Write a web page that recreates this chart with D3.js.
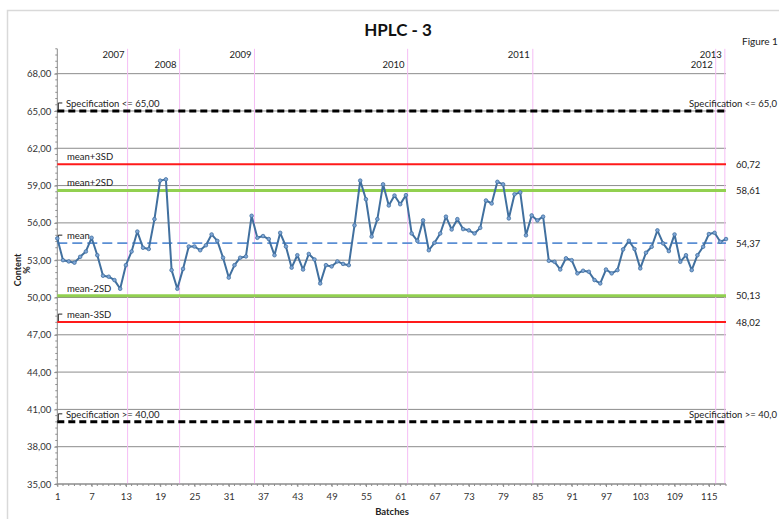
<!DOCTYPE html>
<html>
<head>
<meta charset="utf-8">
<script src="https://cdn.jsdelivr.net/npm/d3@7"></script>
<style>
  body { margin: 0; background: #fff; }
  svg { font-family: Lato, "Open Sans", sans-serif; }
</style>
</head>
<body>
<svg id="chart" width="779" height="519"></svg>
<script>
/** data **/
var contents = [
  54.75, 53.0, 52.9, 52.8, 53.27, 53.7, 54.8, 53.4, 51.75, 51.67,
  51.4, 50.7, 52.6, 53.7, 55.3, 54.0, 53.9, 56.3, 59.4, 59.5,
  52.2, 50.7, 52.3, 54.1, 54.1, 53.8, 54.2, 55.07, 54.55, 53.2,
  51.6, 52.6, 53.2, 53.3, 56.57, 54.8, 54.94, 54.7, 53.4, 55.2,
  54.1, 52.4, 53.4, 52.25, 53.5, 53.06, 51.13, 52.6, 52.5, 52.9,
  52.7, 52.6, 55.8, 59.4, 57.9, 54.9, 56.3, 59.1, 57.4, 58.2,
  57.5, 58.23, 55.15, 54.55, 56.2, 53.8, 54.4, 55.15, 56.5, 55.47,
  56.3, 55.5, 55.4, 55.15, 55.6, 57.8, 57.56, 59.3, 59.1, 56.36,
  58.3, 58.45, 55.0, 56.6, 56.2, 56.5, 52.95, 52.87, 52.25, 53.15,
  53.0, 51.94, 52.15, 52.07, 51.4, 51.13, 52.25, 51.94, 52.2, 53.87,
  54.56, 53.9, 52.34, 53.6, 54.08, 55.4, 54.35, 53.73, 55.07, 52.87,
  53.4, 52.2, 53.4, 54.08, 55.1, 55.2, 54.48, 54.7
];
var nBatches = 118;
var xTickLabels = [1, 7, 13, 19, 25, 31, 37, 43, 49, 55, 61, 67, 73, 79, 85, 91, 97, 103, 109, 115];
var yTicks = [35, 38, 41, 44, 47, 50, 53, 56, 59, 62, 65, 68];

var years = ["2007", "2008", "2009", "2010", "2011", "2012", "2013"];
var yearEnds = [13.3, 22.4, 35.5, 62.3, 84.2, 116.2, 117.8];

var limitNames = ["Specification <= 65,00", "mean+3SD", "mean+2SD", "mean", "mean-2SD", "mean-3SD", "Specification >= 40,00"];
var limitValues = [65.00, 60.72, 58.61, 54.37, 50.13, 48.02, 40.00];
var limitRight = ["Specification <= 65,0", "60,72", "58,61", "54,37", "50,13", "48,02", "Specification >= 40,0"];
var limitKind = ["spec", "sd3", "sd2", "mean", "sd2", "sd3", "spec"];

/** layout **/
var svg = d3.select("#chart");
var x = d3.scaleLinear().domain([1, nBatches]).range([57.3, 726]);
var y = d3.scaleLinear().domain([35, 70]).range([484, 48.8]);
var comma = function(v) { return d3.format(".2f")(v).replace(".", ","); };

// frame
svg.append("rect").attr("x", 7.5).attr("y", 10.5).attr("width", 800).attr("height", 540)
  .attr("fill", "none").attr("stroke", "#d9d9d9").attr("stroke-width", 1.5);

// title
svg.append("text").attr("x", 398).attr("y", 36).attr("text-anchor", "middle")
  .attr("font-size", 17).attr("font-weight", "bold").attr("fill", "#111").text("HPLC - 3");
svg.append("text").attr("x", 742).attr("y", 45).attr("font-size", 10).attr("fill", "#222").text("Figure 1");

// gridlines
svg.append("g").selectAll("line").data(yTicks).enter().append("line")
  .attr("x1", x(1)).attr("x2", x(nBatches))
  .attr("y1", function(d) { return y(d); }).attr("y2", function(d) { return y(d); })
  .attr("stroke", "#8c8c8c").attr("stroke-width", 1);

// year boundaries
svg.append("g").selectAll("line").data(yearEnds).enter().append("line")
  .attr("x1", function(d) { return x(d); }).attr("x2", function(d) { return x(d); })
  .attr("y1", y(70)).attr("y2", y(35))
  .attr("stroke", "#f5bdf5").attr("stroke-width", 1);
svg.append("g").selectAll("text").data(years).enter().append("text")
  .attr("x", function(d, i) { return x(yearEnds[i]) - 3; })
  .attr("y", function(d, i) { return i % 2 == 0 ? 58 : 67.5; })
  .attr("text-anchor", "end").attr("font-size", 9.5).attr("fill", "#222")
  .text(function(d) { return d; });

// y axis
var yAxis = d3.axisLeft(y).tickValues(yTicks).tickSize(3).tickFormat(comma);
var gy = svg.append("g").attr("transform", "translate(" + x(1) + ",0)").call(yAxis);
gy.select(".domain").attr("stroke", "#8c8c8c").attr("d", "M0," + y(70) + "V" + y(35));
gy.selectAll(".tick line").attr("stroke", "#8c8c8c");
gy.selectAll(".tick text").attr("font-size", 9.5).attr("fill", "#333").attr("x", -6)
  .attr("font-family", "Lato, sans-serif");
var minorY = d3.range(35, 70.01, 0.5);
svg.append("g").selectAll("line").data(minorY).enter().append("line")
  .attr("x1", x(1) - 2).attr("x2", x(1))
  .attr("y1", function(d) { return y(d); }).attr("y2", function(d) { return y(d); })
  .attr("stroke", "#8c8c8c").attr("stroke-width", 1);

// x axis
var xAxis = d3.axisBottom(x).tickValues(xTickLabels).tickSize(3).tickFormat(d3.format("d"));
var gx = svg.append("g").attr("transform", "translate(0," + y(35) + ")").call(xAxis);
gx.select(".domain").attr("stroke", "#8c8c8c").attr("d", "M" + x(1) + ",0H" + x(nBatches));
gx.selectAll(".tick line").attr("stroke", "#8c8c8c");
gx.selectAll(".tick text").attr("font-size", 9.5).attr("fill", "#333").attr("dy", "1.1em")
  .attr("font-family", "Lato, sans-serif");
svg.append("g").selectAll("line").data(contents).enter().append("line")
  .attr("x1", function(d, i) { return x(i + 1); }).attr("x2", function(d, i) { return x(i + 1); })
  .attr("y1", y(35)).attr("y2", y(35) + 2)
  .attr("stroke", "#8c8c8c").attr("stroke-width", 1);

// axis titles
var yt = svg.append("text").attr("transform", "translate(21,270) rotate(-90)")
  .attr("text-anchor", "middle").attr("font-size", 9).attr("font-weight", "bold").attr("fill", "#222");
yt.append("tspan").attr("x", 0).attr("y", 0).text("Content");
yt.append("tspan").attr("x", 0).attr("y", 9).text("%");
svg.append("text").attr("x", 392).attr("y", 515).attr("text-anchor", "middle")
  .attr("font-size", 9.5).attr("font-weight", "bold").attr("fill", "#222").text("Batches");

// limit lines
var styles = {
  spec: { stroke: "#000", width: 3, dash: "7,4" },
  sd3:  { stroke: "#ff1a1a", width: 2, dash: null },
  sd2:  { stroke: "#92d050", width: 3, dash: null },
  mean: { stroke: "#5b8fd4", width: 1.8, dash: "10,5" }
};
svg.append("g").selectAll("line").data(limitValues).enter().append("line")
  .attr("x1", x(1)).attr("x2", x(nBatches))
  .attr("y1", function(d) { return y(d); }).attr("y2", function(d) { return y(d); })
  .attr("stroke", function(d, i) { return styles[limitKind[i]].stroke; })
  .attr("stroke-width", function(d, i) { return styles[limitKind[i]].width; })
  .attr("stroke-dasharray", function(d, i) { return styles[limitKind[i]].dash; });

// left labels
svg.append("g").selectAll("text").data(limitNames).enter().append("text")
  .attr("x", function(d, i) { return limitKind[i] == "spec" ? 66 : 67; })
  .attr("y", function(d, i) { return y(limitValues[i]) - 4; })
  .attr("font-size", 9.5).attr("fill", "#222")
  .text(function(d) { return d; });
// small leader marks
var leaderIdx = [0, 3, 5, 6];
svg.append("g").selectAll("path").data(leaderIdx).enter().append("path")
  .attr("d", function(i) {
    var yy = y(limitValues[i]);
    return "M" + (x(1) + 5) + "," + (yy - 8) + "H" + (x(1) + 1) + "V" + (yy - 1);
  })
  .attr("fill", "none").attr("stroke", "#222").attr("stroke-width", 1);

// right labels
svg.append("g").selectAll("text").data(limitRight).enter().append("text")
  .attr("x", function(d, i) { return limitKind[i] == "spec" ? 689 : 736; })
  .attr("y", function(d, i) { return limitKind[i] == "spec" ? y(limitValues[i]) - 4 : y(limitValues[i]) + 3.5; })
  .attr("font-size", 9.5).attr("fill", "#222")
  .text(function(d) { return d; });

// series
var line = d3.line().x(function(d, i) { return x(i + 1); }).y(function(d) { return y(d); });
svg.append("path").datum(contents).attr("d", line)
  .attr("fill", "none").attr("stroke", "#41709f").attr("stroke-width", 2).attr("stroke-linejoin", "round");
svg.append("g").selectAll("circle").data(contents).enter().append("circle")
  .attr("cx", function(d, i) { return x(i + 1); }).attr("cy", function(d) { return y(d); })
  .attr("r", 1.8).attr("fill", "#7fa6d6").attr("stroke", "#41709f").attr("stroke-width", 0.8);
</script>
</body>
</html>
